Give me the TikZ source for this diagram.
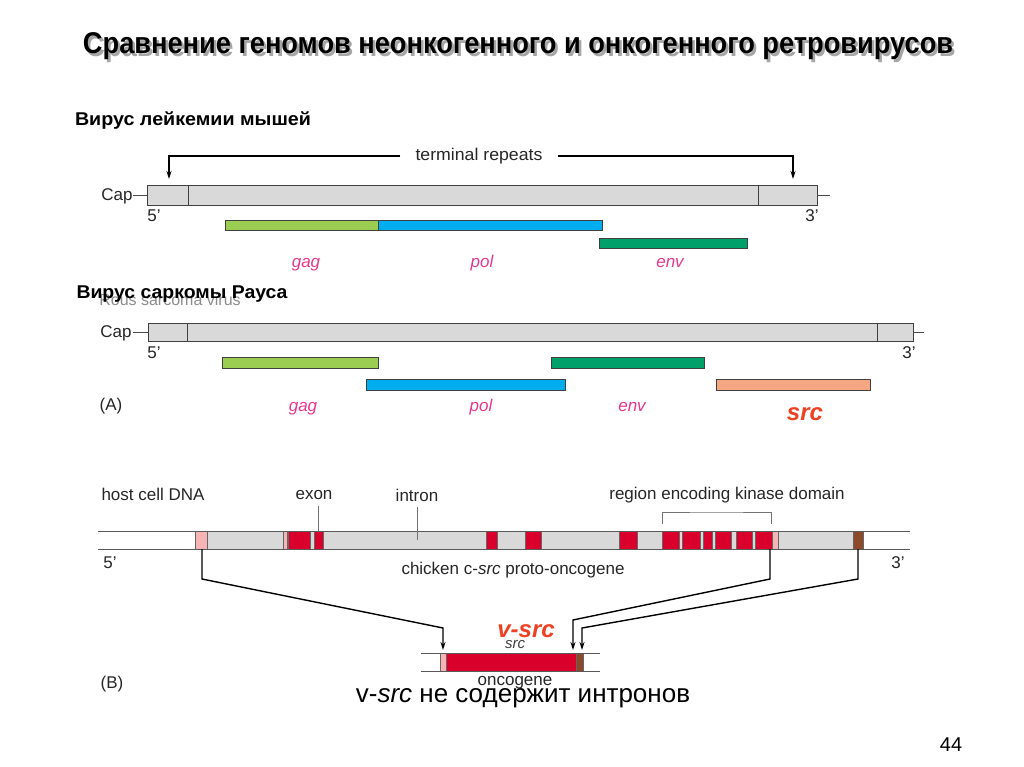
\documentclass[tikz,border=0pt]{standalone}
\usepackage{fontspec}
\setmainfont{Liberation Sans}
\usepackage{graphicx}
\usetikzlibrary{arrows.meta}
\definecolor{bargray}{HTML}{D9D9D9}
\definecolor{gaggreen}{HTML}{9ACD52}
\definecolor{polblue}{HTML}{00AEEF}
\definecolor{envgreen}{HTML}{00A06A}
\definecolor{srcsalmon}{HTML}{F5A784}
\definecolor{labmag}{HTML}{E6388F}
\definecolor{srcred}{HTML}{EE4123}
\definecolor{exonred}{HTML}{D9002B}
\definecolor{exonpink}{HTML}{F7B4B4}
\definecolor{exonbrown}{HTML}{8C4A2A}
\tikzset{
  bar/.style={draw=black!75, line width=0.8pt},
  stub/.style={draw=black!70, line width=0.8pt},
  seg/.style={draw=black!60, line width=0.5pt},
  hline/.style={draw=black!65, line width=0.9pt},
  ptr/.style={draw=black!55, line width=0.8pt},
  lbl/.style={font=\fontsize{17}{20}\selectfont, text=black!85, inner sep=0pt},
  glbl/.style={font=\fontsize{17}{20}\selectfont\itshape, text=labmag, inner sep=0pt, anchor=base},
  arr/.style={draw=black, line width=1.3pt, -{Stealth[length=8pt,width=5pt]}},
  conn/.style={draw=black, line width=1.4pt, -{Stealth[length=8pt,width=5pt]}},
  head/.style={font=\fontsize{18.5}{21}\selectfont\bfseries, inner sep=0pt},
}
\begin{document}
\begin{tikzpicture}[x=1pt,y=-1pt]
\useasboundingbox (0,0) rectangle (1024,767);
\fill[white] (0,0) rectangle (1024,767);

% Title with shadow
\node[font=\fontsize{30}{34}\selectfont\bfseries, text=black!35, inner sep=0pt] (titleshadow) at (520.5,49)
  {\resizebox{870pt}{\height}{Сравнение геномов неонкогенного и онкогенного ретровирусов}};
\node[font=\fontsize{30}{34}\selectfont\bfseries, inner sep=0pt] (title) at (518,46.5)
  {\resizebox{870pt}{\height}{Сравнение геномов неонкогенного и онкогенного ретровирусов}};

% ---------- Murine leukemia virus ----------
\node[head] (mlvtitle) at (193,121) {\resizebox{236pt}{\height}{Вирус лейкемии мышей}};

\node[lbl, fill=white, inner xsep=15pt, inner ysep=2pt] (tr) at (479,156) {\resizebox{127pt}{\height}{terminal repeats}};
\coordinate (trL) at (169,179);
\coordinate (trR) at (793,179);
\draw[arr] (tr.west) -| (trL);
\draw[arr] (tr.east) -| (trR);

\draw[stub] (133,195) -- (147,195);
\draw[stub] (817,195) -- (830,195);
\draw[bar, fill=bargray] (147,185) rectangle (817,205);
\draw[bar] (188,185) -- (188,205);
\draw[bar] (758,185) -- (758,205);
\node[lbl] (cap1) at (117,196) {Cap};
\node[lbl] (five1) at (154,216) {5'};
\node[lbl] (three1) at (812,216) {3'};

\draw[bar, fill=gaggreen] (225,220) rectangle (378,230);
\draw[bar, fill=polblue] (378,220) rectangle (602,230);
\draw[bar, fill=envgreen] (599,238) rectangle (747,248);
\node[glbl] (gag1) at (306,267) {gag};
\node[glbl] (pol1) at (482,267) {pol};
\node[glbl] (env1) at (670,267) {env};

% ---------- Rous sarcoma virus ----------
\node[font=\fontsize{16}{18}\selectfont, text=black!45, inner sep=0pt] (rsvgray) at (170,300) {Rous sarcoma virus};
\node[head] (rsvtitle) at (182,294) {\resizebox{211pt}{\height}{Вирус саркомы Рауса}};

\draw[stub] (133,332) -- (148,332);
\draw[stub] (913,332) -- (924,332);
\draw[bar, fill=bargray] (148,323) rectangle (913,341);
\draw[bar] (187,323) -- (187,341);
\draw[bar] (877,323) -- (877,341);
\node[lbl] (cap2) at (116,333) {Cap};
\node[lbl] (five2) at (154,353) {5'};
\node[lbl] (three2) at (909,353) {3'};

\draw[bar, fill=gaggreen] (222,357) rectangle (378,368);
\draw[bar, fill=envgreen] (551,357) rectangle (704,368);
\draw[bar, fill=polblue] (366,379) rectangle (565,390);
\draw[bar, fill=srcsalmon] (716,379) rectangle (870,390);

\node[lbl] (A) at (111,406) {(A)};
\node[glbl] (gag2) at (303,411) {gag};
\node[glbl] (pol2) at (481,411) {pol};
\node[glbl] (env2) at (632,411) {env};
\node[font=\fontsize{24}{28}\selectfont\bfseries\itshape, text=srcred, inner sep=0pt] (src2) at (805,414) {src};

% ---------- (B) host cell DNA ----------
\node[lbl] (host) at (153,494) {host cell DNA};
\node[lbl] (exon) at (314,495) {exon};
\node[lbl] (intron) at (417,495) {intron};
\node[lbl] (region) at (727,495) {region encoding kinase domain};

\fill[bargray] (195,531) rectangle (863,549);
\foreach \a/\b in {288/310,314/323,486/497,525/541,619/637,662/679,682/700,703/712,715/731,736/752,755/772}
  \draw[seg, fill=exonred] (\a,531) rectangle (\b,549);
\foreach \a/\b in {195/207,283/287,772/778}
  \draw[seg, fill=exonpink] (\a,531) rectangle (\b,549);
\draw[seg, fill=exonbrown] (853,531) rectangle (863,549);
\draw[hline] (98,531) -- (910,531);
\draw[hline] (98,549) -- (910,549);

\draw[ptr] (318,506) -- (318,531);
\draw[ptr] (417,507) -- (417,540);
\draw[ptr] (662,524) |- (716,512) -| (771,524);

\node[lbl] (five3) at (110,563) {5'};
\node[lbl] (three3) at (898,563) {3'};
\node[lbl] (chicken) at (513,570) {chicken c-\textit{src} proto-oncogene};

% oncogene
\draw[seg, fill=exonpink] (440,653) rectangle (446,671);
\draw[seg, fill=exonred] (446,653) rectangle (576,671);
\draw[seg, fill=exonbrown] (576,653) rectangle (583,671);
\draw[hline] (421,653) -- (600,653);
\draw[hline] (421,671) -- (600,671);

% connectors
\coordinate (c1a) at (202,549);
\coordinate (c1b) at (202,579);
\coordinate (c1c) at (443,628);
\coordinate (c1d) at (443,650);
\coordinate (c2a) at (770,549);
\coordinate (c2b) at (770,579);
\coordinate (c2c) at (573,620);
\coordinate (c2d) at (573,650);
\coordinate (c3a) at (858,549);
\coordinate (c3b) at (858,579);
\coordinate (c3c) at (582,628);
\coordinate (c3d) at (582,650);
\draw[conn] (c1a) -- (c1b) -- (c1c) -- (c1d);
\draw[conn] (c2a) -- (c2b) -- (c2c) -- (c2d);
\draw[conn] (c3a) -- (c3b) -- (c3c) -- (c3d);

\node[font=\fontsize{24}{28}\selectfont\bfseries\itshape, text=srcred, inner sep=0pt] (vsrc) at (526,631) {v-src};
\node[font=\fontsize{15}{17}\selectfont\itshape, text=black!75, inner sep=0pt] (srcsmall) at (515,645) {src};
\node[lbl] (onco) at (515,683) {oncogene};
\node[lbl] (B) at (112,684) {(B)};

\node[font=\fontsize{26}{30}\selectfont, inner sep=0pt] (note) at (523,698) {v-\textit{src} не содержит интронов};
\node[font=\fontsize{20}{24}\selectfont, inner sep=0pt] (page) at (951,745) {44};
\end{tikzpicture}
\end{document}
